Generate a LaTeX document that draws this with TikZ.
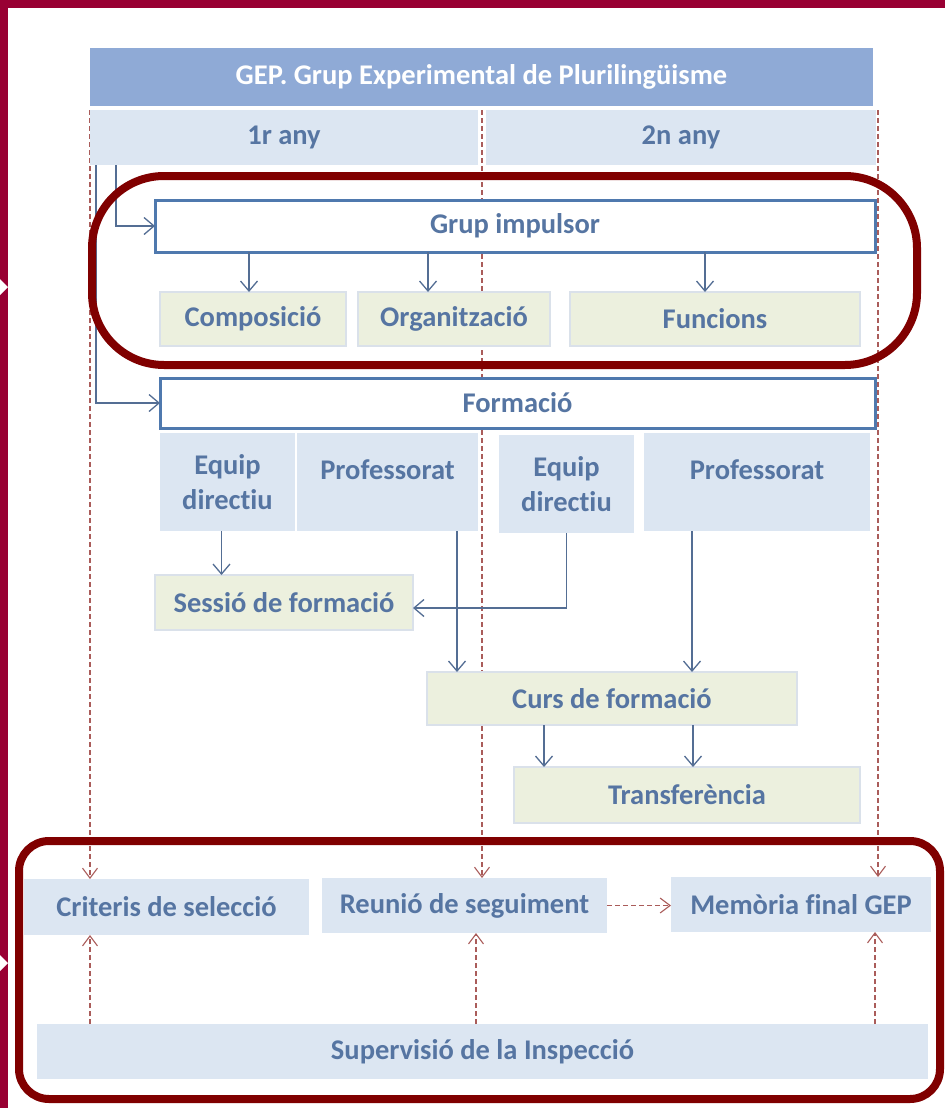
\documentclass[tikz,border=0pt]{standalone}
\usepackage{fontspec}
\setmainfont{Carlito}[Ligatures=NoCommon]
\usetikzlibrary{arrows.meta,calc}
\pgfdeclarelayer{background}
\pgfsetlayers{background,main}
\definecolor{txtblue}{RGB}{86,117,162}
\definecolor{titlefill}{RGB}{143,170,214}
\definecolor{lightblue}{RGB}{220,230,242}
\definecolor{lightgreen}{RGB}{236,240,222}
\definecolor{greenedge}{RGB}{218,225,234}
\definecolor{boxedge}{RGB}{79,121,174}
\definecolor{conn}{RGB}{84,110,148}
\definecolor{dashred}{RGB}{170,92,90}
\definecolor{maroon}{RGB}{128,0,0}
\definecolor{crimson}{RGB}{153,0,51}
\tikzset{
  base/.style={inner sep=0pt, outer sep=0pt, font=\fontsize{28.5}{35}\selectfont\bfseries, text=txtblue, align=center},
  titlebox/.style={base, fill=titlefill, text=white},
  yearbox/.style={base, fill=lightblue},
  mainbox/.style={base, fill=white, draw=boxedge, line width=3pt},
  greenbox/.style={base, fill=lightgreen, draw=greenedge, line width=2pt},
  bluebox/.style={base, fill=lightblue},
  lowbox/.style={base, fill=lightblue},
  txt/.style={base},
  conline/.style={draw=conn, line width=1.3pt},
  conarrow/.style={conline, -{Straight Barb[length=10pt,width=17pt,line width=1.3pt]}},
  dashline/.style={draw=dashred, line width=1.2pt, dash pattern=on 5pt off 3pt},
  dasharrow/.style={dashline, -{Straight Barb[length=10pt,width=15pt,line width=1.1pt]}},
  oval/.style={draw=maroon, line width=8pt},
}
\begin{document}
\begin{tikzpicture}[x=1pt,y=-1pt]
\useasboundingbox (0,0) rectangle (945,1108);
\begin{pgfonlayer}{background}
\fill[white] (0,0) rectangle (945,1108);
\end{pgfonlayer}
% outer frame bars
\fill[crimson] (0,0) rectangle (945,8);
\fill[crimson] (0,0) rectangle (8,1108);
\fill[white] (0,279) -- (8,287) -- (0,295) -- cycle;
\fill[white] (0,955) -- (8,963) -- (0,971) -- cycle;

% header
\node[titlebox, minimum width=783pt, minimum height=58pt] (title) at (481.5,77) {GEP. Grup Experimental de Plurilingüisme};
\node[yearbox, minimum width=388pt, minimum height=55pt] (y1) at (284,137.5) {1r any};
\node[yearbox, minimum width=390pt, minimum height=55pt] (y2) at (681,137.5) {2n any};

% grup impulsor
\node[mainbox, minimum width=720pt, minimum height=52pt] (grup) at (515,226) {Grup impulsor};
\node[greenbox, minimum width=186pt, minimum height=54pt] (comp) at (253,319) {Composició};
\node[greenbox, minimum width=192pt, minimum height=54pt] (org) at (454,319) {Organització};
\node[greenbox, minimum width=290pt, minimum height=54pt] (func) at (715,319) {Funcions};

% formacio
\node[mainbox, minimum width=715pt, minimum height=50pt] (form) at (517.5,403) {Formació};
\node[bluebox, minimum width=135pt, minimum height=98pt] (ed1) at (227.5,482) {Equip\\directiu};
\node[bluebox, minimum width=181pt, minimum height=98pt] (pr1) at (387.5,482) {};
\node[txt] (pr1t) at (387.5,470) {Professorat};
\node[bluebox, minimum width=135pt, minimum height=98pt] (ed2) at (566.5,484) {Equip\\directiu};
\node[bluebox, minimum width=226pt, minimum height=98pt] (pr2) at (757,482) {};
\node[txt] (pr2t) at (757,470) {Professorat};
\node[greenbox, minimum width=258pt, minimum height=55pt] (ses) at (284,602.5) {Sessió de formació};
\node[greenbox, minimum width=370pt, minimum height=53pt] (curs) at (612,698.5) {Curs de formació};
\node[greenbox, minimum width=346pt, minimum height=56pt] (trans) at (687,795) {Transferència};

% bottom
\node[lowbox, minimum width=285pt, minimum height=56pt] (crit) at (166.5,907) {Criteris de selecció};
\node[lowbox, minimum width=285pt, minimum height=55pt] (reun) at (464.5,905.5) {Reunió de seguiment};
\node[lowbox, minimum width=260pt, minimum height=55pt] (mem) at (801,904.5) {Memòria final GEP};
\node[lowbox, minimum width=891pt, minimum height=55pt] (sup) at (482.5,1051.5) {Supervisió de la Inspecció};

% dashed lines behind boxes
\begin{pgfonlayer}{background}
\coordinate (dl) at (y1.north west);
\coordinate (dm) at ($(y1.north east)!0.5!(y2.north west)$);
\coordinate (dr) at ([xshift=2pt]y2.north east);
\draw[dasharrow] (dl) -- (dl |- crit.north);
\draw[dasharrow] (dm) -- (dm |- reun.north);
\draw[dasharrow] (dr) -- (dr |- mem.north);
\end{pgfonlayer}
\draw[dasharrow] ([xshift=-76.5pt]crit.south |- sup.north) -- ([xshift=-76.5pt]crit.south);
\draw[dasharrow] ([xshift=11.5pt]reun.south |- sup.north) -- ([xshift=11.5pt]reun.south);
\draw[dasharrow] ([xshift=74pt]mem.south |- sup.north) -- ([xshift=74pt]mem.south);
\draw[dasharrow] (reun.east) -- (reun.east -| mem.west);

% solid connectors
\draw[conarrow] ([xshift=26pt]y1.south west) |- (grup.west);
\draw[conarrow] ([xshift=6pt]y1.south west) |- (form.west);
\draw[conarrow] ([xshift=-4pt]comp.north |- grup.south) -- ([xshift=-4pt]comp.north);
\draw[conarrow] ([xshift=-26pt]org.north |- grup.south) -- ([xshift=-26pt]org.north);
\draw[conarrow] ([xshift=-10pt]func.north |- grup.south) -- ([xshift=-10pt]func.north);
\draw[conarrow] ([xshift=-6pt]ed1.south) -- ([xshift=-6pt]ed1.south |- ses.north);
\draw[conarrow] (ed2.south) |- ([yshift=-5.5pt]ses.east);
\draw[conarrow] ([xshift=69.5pt]pr1.south) -- ([xshift=69.5pt]pr1.south |- curs.north);
\draw[conarrow] ([xshift=-65pt]pr2.south) -- ([xshift=-65pt]pr2.south |- curs.north);
\draw[conarrow] ([xshift=-68pt]curs.south) -- ([xshift=-68pt]curs.south |- trans.north);
\draw[conarrow] ([xshift=81pt]curs.south) -- ([xshift=81pt]curs.south |- trans.north);

% highlight frames
\draw[oval, rounded corners=72pt] (92,176) rectangle (917,365);
\draw[oval, rounded corners=30pt] (19,841) rectangle (940,1099);
\end{tikzpicture}
\end{document}
